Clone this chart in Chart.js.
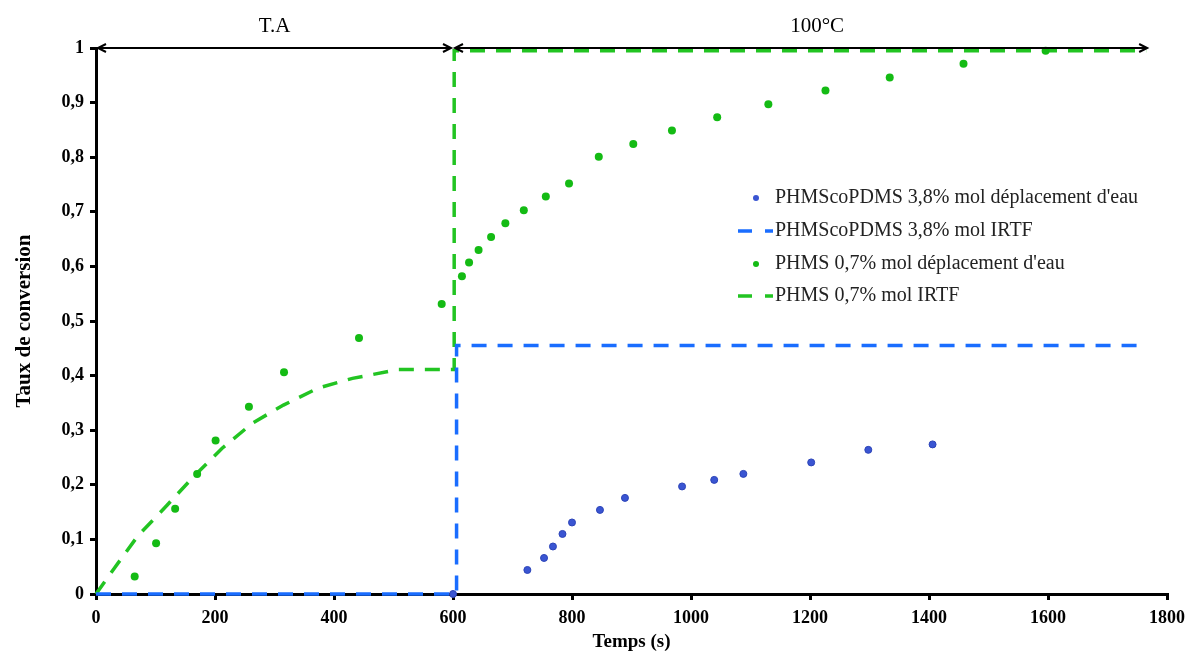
<!DOCTYPE html>
<html>
<head>
<meta charset="utf-8">
<script src="https://cdn.jsdelivr.net/npm/chart.js@4.4.0/dist/chart.umd.min.js"></script>
<style>
  html, body { margin: 0; padding: 0; background: #fff; }
  #wrap { width: 1193px; height: 653px; }
</style>
</head>
<body>
<div id="wrap"><canvas id="myChart" width="1193" height="653"></canvas></div>
<script>
// data
var blueDotsX = [600, 725, 753, 768, 784, 800, 847, 889, 985, 1039, 1088, 1202, 1298, 1406];
var blueDotsY = [0, 0.044, 0.066, 0.087, 0.110, 0.131, 0.154, 0.176, 0.197, 0.209, 0.220, 0.241, 0.264, 0.274];

var blueLineX = [0, 606, 606, 1750];
var blueLineY = [0, 0, 0.455, 0.455];

var greenDotsX = [65, 101, 133, 170, 201, 257, 316, 442, 581, 615, 627, 643, 664, 688, 719, 756, 795, 845, 903, 968, 1044, 1130, 1226, 1334, 1458, 1596];
var greenDotsY = [0.032, 0.093, 0.156, 0.220, 0.281, 0.343, 0.406, 0.469, 0.531, 0.582, 0.607, 0.630, 0.654, 0.679, 0.703, 0.728, 0.752, 0.801, 0.824, 0.849, 0.873, 0.897, 0.922, 0.946, 0.971, 0.995];

var greenLineX = [0, 32, 70, 119, 164, 212, 263, 315, 373, 431, 508, 592, 602, 602, 1765];
var greenLineY = [0, 0.049, 0.106, 0.162, 0.215, 0.267, 0.313, 0.346, 0.377, 0.395, 0.411, 0.411, 0.411, 0.995, 0.995];

var seriesLabels = [
    "PHMScoPDMS 3,8% mol déplacement d'eau",
    "PHMScoPDMS 3,8% mol IRTF",
    "PHMS 0,7% mol déplacement d'eau",
    "PHMS 0,7% mol IRTF"
];

// top arrows: [from, to, label, label x]
var arrowsFrom = [0, 600];
var arrowsTo = [600, 1770];
var arrowLabels = ["T.A", "100°C"];
var arrowLabelX = [300, 1212];

var GREEN = '#14bb14';
var GREEN_LINE = '#22c422';
var BLUE_DOT = '#3a55d2';
var BLUE_LINE = '#1a6dff';
var SERIF = '"Liberation Serif", "Times New Roman", serif';

function pts(xs, ys){
    var out = [];
    for(var i = 0; i < xs.length; i++){
        out.push({x: xs[i], y: ys[i]});
    }
    return out;
}

var arrowPlugin = {
    id: 'arrows',
    afterDraw: function(chart){
        var c = chart.ctx;
        var xs = chart.scales.x, ys = chart.scales.y;
        var py = ys.getPixelForValue(1);
        c.save();
        c.strokeStyle = '#000';
        c.fillStyle = '#000';
        c.lineWidth = 2;
        for(var i = 0; i < arrowsFrom.length; i++){
            var a = xs.getPixelForValue(arrowsFrom[i]) + 2;
            var b = xs.getPixelForValue(arrowsTo[i]) - 2;
            c.beginPath();
            c.moveTo(a, py);
            c.lineTo(b, py);
            c.stroke();
            c.beginPath();
            c.moveTo(a + 8, py - 4);
            c.lineTo(a, py);
            c.lineTo(a + 8, py + 4);
            c.stroke();
            c.beginPath();
            c.moveTo(b - 8, py - 4);
            c.lineTo(b, py);
            c.lineTo(b - 8, py + 4);
            c.stroke();
            c.font = '21px ' + SERIF;
            c.textAlign = 'center';
            c.textBaseline = 'middle';
            c.fillText(arrowLabels[i], xs.getPixelForValue(arrowLabelX[i]), 26);
        }
        c.restore();
    }
};

var legendPlugin = {
    id: 'myLegend',
    afterDraw: function(chart){
        var c = chart.ctx;
        var rows = [198, 231, 264, 296];
        var textX = 775;
        c.save();
        c.font = '20px ' + SERIF;
        c.textBaseline = 'middle';
        c.textAlign = 'left';
        c.fillStyle = '#222';
        for(var i = 0; i < rows.length; i++){
            var ds = chart.data.datasets[i];
            var y = rows[i];
            if(ds.showLine){
                c.strokeStyle = ds.borderColor;
                c.lineWidth = 3.5;
                c.beginPath();
                c.moveTo(738, y); c.lineTo(752, y);
                c.moveTo(765, y); c.lineTo(773, y);
                c.stroke();
            } else {
                c.fillStyle = ds.backgroundColor;
                c.beginPath();
                c.arc(756, y, 3, 0, Math.PI * 2);
                c.fill();
            }
            c.fillStyle = '#222';
            c.fillText(seriesLabels[i], textX, y);
        }
        c.restore();
    }
};

var ctx = document.getElementById('myChart');
var myChart = new Chart(ctx, {
    type: 'scatter',
    data: {
        datasets: [{
            label: seriesLabels[0],
            data: pts(blueDotsX, blueDotsY),
            backgroundColor: BLUE_DOT,
            borderColor: '#2c44b8',
            borderWidth: 1,
            pointRadius: 3.5,
            showLine: false,
            clip: 8
        }, {
            label: seriesLabels[1],
            data: pts(blueLineX, blueLineY),
            borderColor: BLUE_LINE,
            backgroundColor: BLUE_LINE,
            borderWidth: 3.5,
            borderDash: [15, 11],
            pointRadius: 0,
            showLine: true,
            tension: 0,
            clip: 8
        }, {
            label: seriesLabels[2],
            data: pts(greenDotsX, greenDotsY),
            backgroundColor: GREEN,
            borderColor: GREEN,
            borderWidth: 0,
            pointRadius: 4,
            showLine: false,
            clip: 8
        }, {
            label: seriesLabels[3],
            data: pts(greenLineX, greenLineY),
            borderColor: GREEN_LINE,
            backgroundColor: GREEN_LINE,
            borderWidth: 3.5,
            borderDash: [15, 11],
            pointRadius: 0,
            showLine: true,
            tension: 0,
            clip: 8
        }]
    },
    options: {
        responsive: false,
        animation: false,
        layout: { padding: { top: 48, right: 25, left: 12, bottom: 0 } },
        plugins: {
            legend: { display: false },
            tooltip: { enabled: false }
        },
        scales: {
            x: {
                type: 'linear',
                min: 0,
                max: 1800,
                afterFit: function(s){ s.height = 59; },
                border: { display: true, color: '#000', width: 3 },
                grid: { display: true, drawOnChartArea: false, drawTicks: true, tickLength: 6, color: '#000', lineWidth: 3 },
                ticks: {
                    stepSize: 200,
                    color: '#000',
                    padding: 8,
                    maxRotation: 0,
                    font: { family: SERIF, size: 18, weight: 'bold' },
                    callback: function(v){ return String(v); }
                },
                title: {
                    display: true,
                    text: 'Temps (s)',
                    color: '#000',
                    padding: { top: 0, bottom: 0 },
                    font: { family: SERIF, size: 19, weight: 'bold' }
                }
            },
            y: {
                type: 'linear',
                min: 0,
                max: 1,
                afterFit: function(s){ s.width = 84; },
                border: { display: true, color: '#000', width: 3 },
                grid: { display: true, drawOnChartArea: false, drawTicks: true, tickLength: 6, color: '#000', lineWidth: 3 },
                ticks: {
                    stepSize: 0.1,
                    color: '#000',
                    padding: 6,
                    font: { family: SERIF, size: 18, weight: 'bold' },
                    callback: function(v){
                        var r = Math.round(v * 10) / 10;
                        if(r === 0 || r === 1) return String(r);
                        return r.toFixed(1).replace('.', ',');
                    }
                },
                title: {
                    display: true,
                    text: 'Taux de conversion',
                    color: '#000',
                    padding: { top: 0, bottom: 4 },
                    font: { family: SERIF, size: 21, weight: 'bold' }
                }
            }
        }
    },
    plugins: [arrowPlugin, legendPlugin]
});
</script>
</body>
</html>
